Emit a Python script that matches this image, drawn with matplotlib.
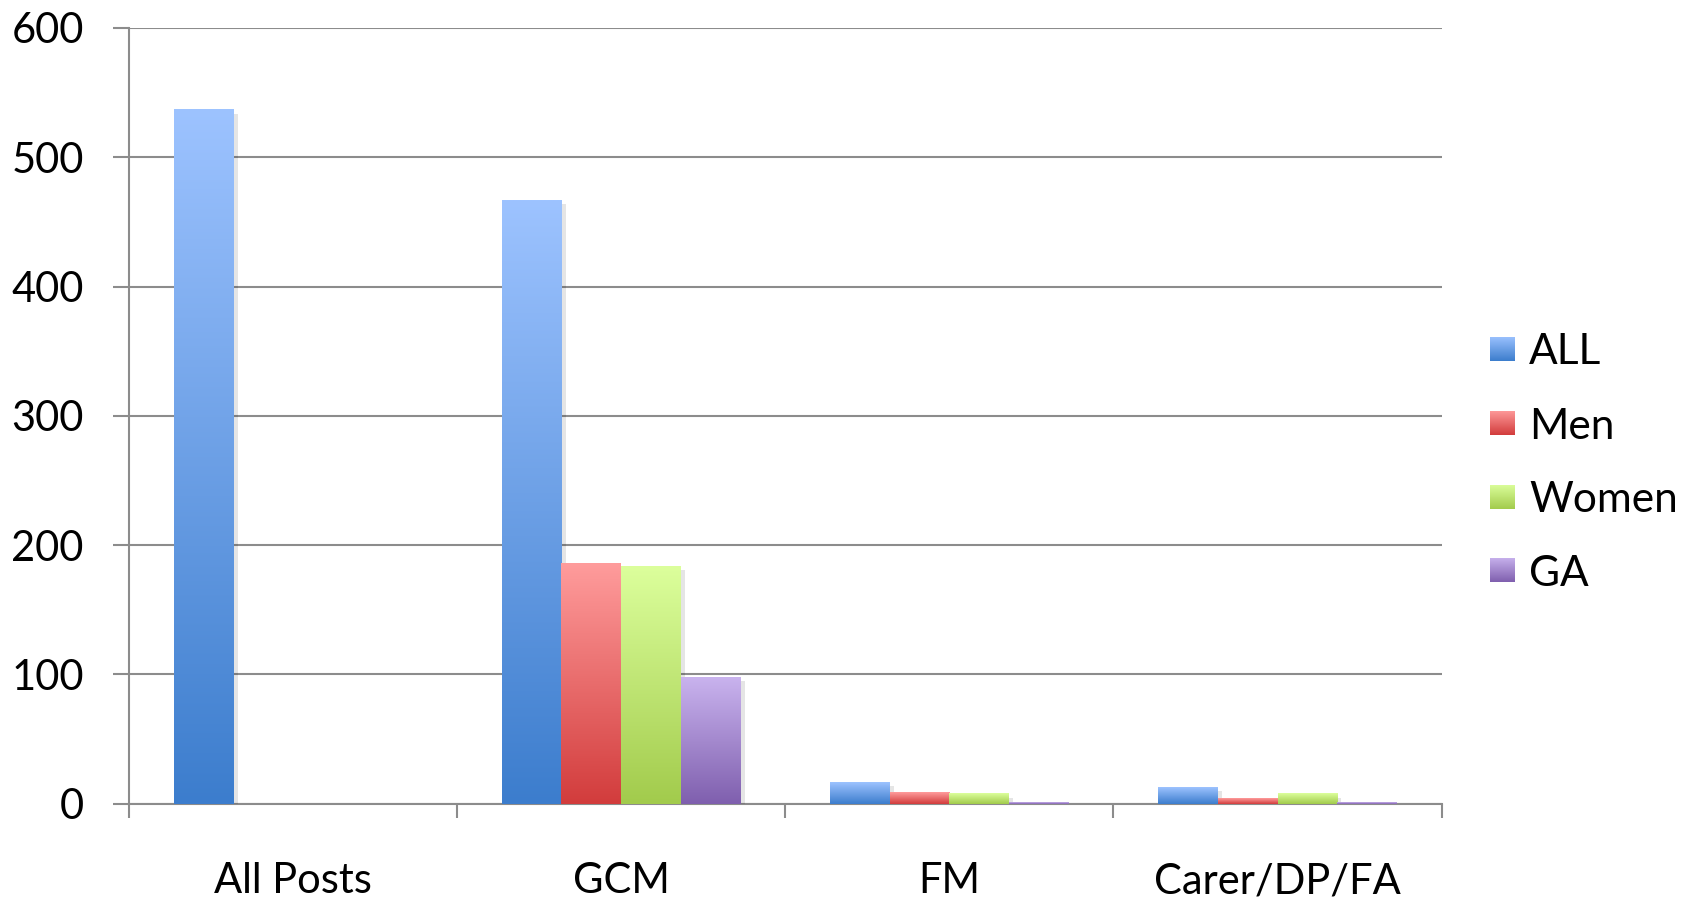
import numpy as np
import matplotlib
matplotlib.use('Agg')
import matplotlib.pyplot as plt
from matplotlib.colors import LinearSegmentedColormap
from matplotlib import patheffects as pe

# data
categories = ['All Posts', 'GCM', 'FM', 'Carer/DP/FA']
series_names = ['ALL', 'Men', 'Women', 'GA']
all_vals = [537, 467, 17, 13]
men_vals = [np.nan, 186, 9, 4]
women_vals = [np.nan, 184, 8, 8]
ga_vals = [np.nan, 98, 1, 1]
y_ticks = [0, 100, 200, 300, 400, 500, 600]

# gradient colours, light at the top of each bar, darker at the bottom
top_colors = ['#9dc3ff', '#ff9c9c', '#dcff9c', '#c9b3ee']
bottom_colors = ['#3c7dcd', '#d23c3c', '#a2cb4c', '#7f5fae']

plt.rcParams['font.family'] = ['Lato', 'DejaVu Sans']
grid_color = '#8c8c8c'

fig = plt.figure(figsize=(17.04, 9.02), dpi=100)
ax = fig.add_axes([0.0757, 0.109, 0.7703, 0.860])

x = np.arange(len(categories))
width = 0.182
grad = np.linspace(0, 1, 256).reshape(-1, 1)
all_series = [all_vals, men_vals, women_vals, ga_vals]

for i, (name, vals) in enumerate(zip(series_names, all_series)):
    cmap = LinearSegmentedColormap.from_list(name, [bottom_colors[i], top_colors[i]])
    offs = (i - 1.5) * width
    bars = ax.bar(x + offs, vals, width, color='none', edgecolor='none', zorder=3)
    for b, v in zip(bars, vals):
        if np.isnan(v):
            continue
        b.set_path_effects([pe.SimplePatchShadow(offset=(3, -3), shadow_rgbFace='k', alpha=0.1)])
        ax.imshow(grad, extent=[b.get_x(), b.get_x() + width, 0, v], origin='lower',
                  cmap=cmap, aspect='auto', zorder=3.5, interpolation='bilinear')

ax.set_xlim(-0.5, len(categories) - 0.5)
ax.set_ylim(0, 600)

# axes styling
for side in ['top', 'right']:
    ax.spines[side].set_visible(False)
for side in ['left', 'bottom']:
    ax.spines[side].set_color(grid_color)
    ax.spines[side].set_linewidth(1.5)
ax.set_axisbelow(True)
ax.yaxis.grid(True, color=grid_color, linewidth=1.5)

ax.set_yticks(y_ticks)
ax.tick_params(axis='y', direction='out', length=11.5, width=1.5, color=grid_color,
               pad=21, labelsize=30)

ax.set_xticks(x)
ax.set_xticklabels(categories)
ax.set_xticks(np.arange(len(categories) + 1) - 0.5, minor=True)
ax.tick_params(axis='x', which='major', length=0, pad=42, labelsize=30)
ax.tick_params(axis='x', which='minor', direction='out', length=10, width=1.5, color=grid_color)

# legend with gradient swatches
legend_centers = [349, 423, 497, 570]
for i, name in enumerate(series_names):
    cy = legend_centers[i]
    cmap = LinearSegmentedColormap.from_list(name + '_leg', [bottom_colors[i], top_colors[i]])
    sw = fig.add_axes([1490 / 1704, 1 - (cy + 12.5) / 902, 25 / 1704, 25 / 902])
    sw.imshow(grad, origin='lower', cmap=cmap, aspect='auto', interpolation='bilinear')
    sw.set_axis_off()
    fig.text(1529 / 1704, 1 - cy / 902, name, fontsize=30.5, va='center_baseline', ha='left')

fig.savefig('out.png', dpi=100)
